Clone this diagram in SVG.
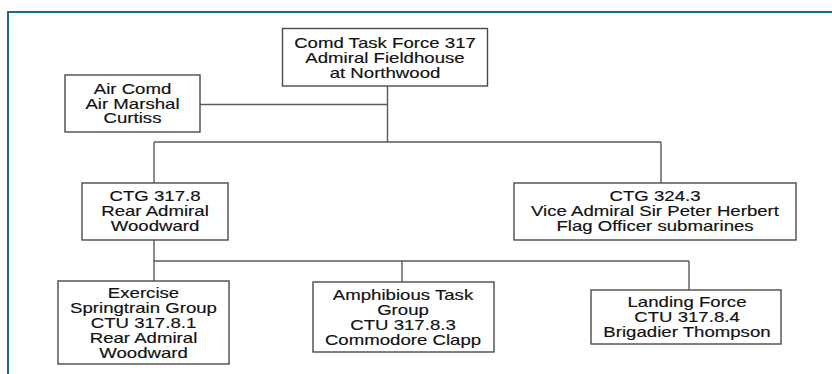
<svg xmlns="http://www.w3.org/2000/svg" width="832" height="374" viewBox="0 0 832 374">
<style>
.box{fill:#fff;stroke:#4a4a4a;stroke-width:1.4}
.ln{fill:none;stroke:#5a5a5a;stroke-width:1.4}
.t{font-family:"Liberation Sans",Arial,sans-serif;font-size:14px;fill:#111;stroke:#111;stroke-width:0.15;text-anchor:middle}
</style>
<rect x="0" y="0" width="832" height="374" fill="#fff"/>
<rect x="8" y="12" width="840" height="380" fill="none" stroke="#1f6b8f" stroke-width="2"/>
<g id="connectors">
<path class="ln" d="M200,104.5 H387.5 M387.5,86 V142 M154,142 H661 M154,142 V183 M661,142 V183 M154,240 V281 M154,261 H689 M402,261 V282 M689,261 V290"/>
</g>
<g id="n-top">
<rect class="box" x="282.5" y="28.5" width="205" height="57.5"/>
<text class="t" transform="translate(385,47.5) scale(1.33,1)">Comd Task Force 317</text>
<text class="t" transform="translate(385,62.5) scale(1.33,1)">Admiral Fieldhouse</text>
<text class="t" transform="translate(385,77.5) scale(1.33,1)">at Northwood</text>
</g>
<g id="n-air">
<rect class="box" x="65" y="75" width="135" height="57"/>
<text class="t" transform="translate(132.5,93.5) scale(1.33,1)">Air Comd</text>
<text class="t" transform="translate(132.5,108.5) scale(1.33,1)">Air Marshal</text>
<text class="t" transform="translate(132.5,123) scale(1.33,1)">Curtiss</text>
</g>
<g id="n-ctg3178">
<rect class="box" x="82" y="183" width="146" height="57"/>
<text class="t" transform="translate(155,201) scale(1.33,1)">CTG 317.8</text>
<text class="t" transform="translate(155,216) scale(1.33,1)">Rear Admiral</text>
<text class="t" transform="translate(155,231) scale(1.33,1)">Woodward</text>
</g>
<g id="n-ctg3243">
<rect class="box" x="514" y="183" width="282" height="57"/>
<text class="t" transform="translate(655,201) scale(1.33,1)">CTG 324.3</text>
<text class="t" transform="translate(655,216) scale(1.33,1)">Vice Admiral Sir Peter Herbert</text>
<text class="t" transform="translate(655,231) scale(1.33,1)">Flag Officer submarines</text>
</g>
<g id="n-exercise">
<rect class="box" x="58" y="281" width="171" height="83"/>
<text class="t" transform="translate(143.5,297.5) scale(1.33,1)">Exercise</text>
<text class="t" transform="translate(143.5,312.5) scale(1.33,1)">Springtrain Group</text>
<text class="t" transform="translate(143.5,327.5) scale(1.33,1)">CTU 317.8.1</text>
<text class="t" transform="translate(143.5,342.5) scale(1.33,1)">Rear Admiral</text>
<text class="t" transform="translate(143.5,357.5) scale(1.33,1)">Woodward</text>
</g>
<g id="n-amphib">
<rect class="box" x="313" y="282" width="181" height="70"/>
<text class="t" transform="translate(403,299.5) scale(1.33,1)">Amphibious Task</text>
<text class="t" transform="translate(403,314.5) scale(1.33,1)">Group</text>
<text class="t" transform="translate(403,329.5) scale(1.33,1)">CTU 317.8.3</text>
<text class="t" transform="translate(403,344.5) scale(1.33,1)">Commodore Clapp</text>
</g>
<g id="n-landing">
<rect class="box" x="591" y="290" width="190" height="54"/>
<text class="t" transform="translate(687,307) scale(1.33,1)">Landing Force</text>
<text class="t" transform="translate(687,322) scale(1.33,1)">CTU 317.8.4</text>
<text class="t" transform="translate(687,336.5) scale(1.33,1)">Brigadier Thompson</text>
</g>
</svg>
